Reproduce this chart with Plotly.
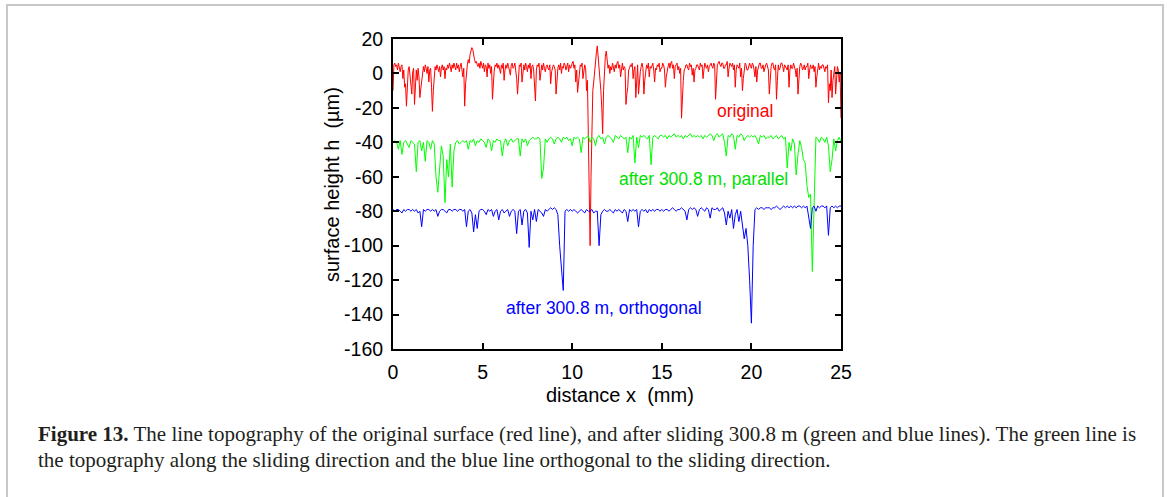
import numpy as np
import plotly.graph_objects as go

# surface height (um), original surface, sampled every 0.05 mm
h_original = [
    -10, 5, 6, 4, 5, 2, 6, 3, 1, 4, 5, -3, 2, -8, -6, -19, -5, 2, 4, -2,
    -8, -12, 1, 3, -18, -6, 2, -4, 3, -2, -14, -9, -3, 2, 4, 1, 5, 3, 0, 4,
    -5, 2, 3, -8, -22, -10, 1, 4, 2, 5, 3, 1, 4, -2, 3, 5, 2, 4, -3, 3,
    2, 5, 3, 6, 4, 1, 5, 3, 6, 4, 2, 6, 3, 5, 1, 4, 6, 2, -2, 3,
    -19, -6, 3, 5, 8, 6, 11, 13, 15, 14, 10, 8, 6, 7, 5, 4, 6, 3, 7, 5,
    3, 6, 1, 5, 4, -2, 6, 3, 5, 0, 4, -15, -4, 2, 5, 4, 6, 3, 5, 2,
    0, 5, 3, 6, -4, 2, 5, 3, 6, 4, 2, -1, 5, 6, 3, 4, 6, 2, -3, -12,
    2, 5, 4, 6, -5, 3, 5, 2, 6, 4, 1, 5, 3, 6, -3, 4, 5, 2, -8, -16,
    2, 5, 4, 6, -4, 3, 5, 2, 6, 3, 1, 4, 5, 3, 2, 5, -6, 1, 3, 5,
    4, 2, -12, -3, 3, 5, 2, 6, 0, 4, 3, 6, 5, 2, 4, 6, 1, 5, 3, 4,
    6, 7, 3, 5, -5, 2, -11, -4, 2, 5, 4, 6, -3, 2, 5, 3, -10, -4, -30, -55,
    -100, -60, -20, -10, -5, 2, 8, 12, 16, 10, 5, -2, -10, -20, -35, -10, 5, 10, 13, 8,
    3, 5, 0, 4, 2, 6, 4, 1, 5, 3, 6, 7, 3, 5, -2, 4, 6, 2, 4, 3,
    -18, -12, -8, 2, 3, 5, 4, 6, -3, 2, 4, -14, 2, 5, -12, -2, 1, 4, 6, 3,
    -12, -4, 2, 5, 3, 6, -2, 4, 3, 5, 6, 2, -5, 3, 2, 5, 4, 6, 1, 3,
    3, 6, 5, 2, -8, -2, 2, 4, 6, 3, 6, 7, 3, 5, -3, 4, 5, 6, 2, 4,
    0, 3, -26, -8, -4, 2, 3, 5, 5, 3, 2, 6, 4, 5, -1, 3, -5, 2, 3, 5,
    5, 3, 2, 6, 4, 5, -3, 2, 6, 4, 3, 5, 1, 4, 5, 6, 4, 3, 6, 5,
    -15, -3, 5, 6, 7, 5, 4, 6, 6, 3, 3, 5, 5, 7, -2, 3, 6, 5, 4, 6,
    2, 5, -8, 2, 5, 4, 3, 6, -2, 3, -10, -3, 4, 6, 5, 2, 2, 5, 6, 4,
    3, 6, 5, 2, -2, 4, -5, 2, 4, 6, 6, 3, 3, 5, 1, 4, 5, 6, 3, 2,
    -12, -2, 4, 6, 6, 3, 2, 5, -15, -4, 5, 2, 3, 6, 6, 4, 1, 5, 4, 3,
    2, 5, -8, 2, 5, 3, 3, 6, 4, 2, -2, 3, -12, -3, 4, 6, 5, 2, 3, 5,
    2, 4, 4, 6, -3, 2, 5, 3, 3, 5, 1, 4, -8, -2, 4, 6, 2, 4, 3, 5,
    5, 2, 1, 4, 3, 5, -17, -6, -10, 2, -14, -4, 2, 4, -12, -3, 4, 2, -5, 0,
    -26,
]

# after 300.8 m, parallel to sliding direction, sampled every 0.1 mm
h_parallel = [
    -40, -39, -40, -44, -39, -47, -40, -39, -41, -43,
    -39, -40, -41, -57, -40, -39, -45, -40, -51, -39,
    -40, -44, -39, -41, -60, -69, -55, -42, -48, -75,
    -50, -60, -41, -66, -45, -40, -39, -41, -40, -39,
    -40, -39, -44, -39, -40, -38, -42, -39, -40, -38,
    -39, -40, -43, -38, -39, -45, -39, -40, -38, -39,
    -39, -48, -40, -38, -42, -39, -38, -40, -39, -38,
    -38, -48, -38, -40, -38, -42, -39, -38, -37, -38,
    -38, -37, -38, -61, -55, -38, -40, -38, -37, -38,
    -41, -38, -37, -38, -40, -37, -38, -37, -39, -38,
    -42, -37, -38, -37, -38, -46, -37, -38, -37, -36,
    -40, -37, -38, -42, -37, -36, -38, -37, -41, -37,
    -36, -37, -38, -40, -36, -37, -38, -36, -37, -38,
    -37, -46, -37, -38, -36, -52, -37, -43, -36, -37,
    -36, -37, -38, -36, -53, -37, -36, -37, -38, -36,
    -36, -37, -36, -38, -36, -37, -36, -35, -37, -36,
    -37, -36, -38, -36, -37, -36, -35, -37, -36, -37,
    -36, -37, -36, -38, -36, -37, -36, -35, -36, -39,
    -36, -35, -37, -36, -35, -40, -48, -36, -37, -35,
    -36, -44, -36, -37, -35, -36, -39, -37, -36, -37,
    -36, -37, -36, -38, -41, -36, -37, -36, -38, -37,
    -37, -36, -38, -37, -36, -38, -37, -36, -38, -37,
    -55, -40, -45, -38, -41, -59, -47, -39, -43, -50,
    -52, -65, -72, -70, -115, -80, -37, -38, -40, -37,
    -38, -40, -37, -42, -57, -50, -38, -45, -39, -37,
    -40,
]

# after 300.8 m, orthogonal to sliding direction, sampled every 0.1 mm
h_orthogonal = [
    -79, -80, -79, -79, -80, -81, -79, -80, -79, -79,
    -80, -79, -80, -79, -81, -80, -89, -79, -80, -79,
    -79, -80, -79, -80, -79, -83, -80, -79, -79, -80,
    -81, -79, -79, -80, -79, -79, -80, -79, -79, -80,
    -79, -89, -80, -79, -81, -92, -82, -90, -80, -79,
    -79, -80, -82, -79, -80, -79, -83, -80, -79, -85,
    -80, -79, -81, -80, -79, -83, -80, -79, -80, -93,
    -80, -79, -88, -80, -79, -81, -101, -80, -85, -79,
    -86, -79, -80, -81, -83, -79, -80, -79, -78, -79,
    -78, -79, -82, -100, -113, -126, -80, -79, -80, -79,
    -80, -79, -80, -81, -80, -79, -80, -81, -79, -80,
    -80, -79, -81, -80, -80, -100, -82, -80, -79, -80,
    -80, -79, -80, -81, -79, -80, -79, -80, -81, -79,
    -80, -86, -79, -80, -79, -80, -79, -89, -80, -79,
    -80, -79, -81, -79, -80, -79, -80, -79, -79, -80,
    -79, -80, -79, -79, -80, -79, -78, -79, -80, -79,
    -79, -78, -79, -80, -85, -79, -78, -79, -78, -79,
    -83, -79, -78, -79, -80, -78, -79, -84, -78, -79,
    -79, -78, -80, -79, -78, -81, -88, -80, -84, -79,
    -90, -82, -79, -86, -80, -88, -96, -90, -100, -120,
    -145, -100, -79, -78, -79, -78, -78, -79, -78, -78,
    -78, -79, -78, -78, -77, -78, -79, -78, -77, -78,
    -77, -78, -77, -78, -77, -78, -77, -77, -78, -77,
    -78, -77, -84, -90, -78, -77, -80, -77, -78, -77,
    -77, -78, -77, -94, -78, -77, -78, -77, -78, -77,
    -77,
]

assert len(h_original) == 501, len(h_original)
assert len(h_parallel) == 251, len(h_parallel)
assert len(h_orthogonal) == 251, len(h_orthogonal)

# distance grids (mm)
x_fine = [round(i * 0.05, 2) for i in range(len(h_original))]
x_coarse = [round(i * 0.1, 1) for i in range(len(h_parallel))]

x_ticks = [0, 5, 10, 15, 20, 25]
y_ticks = [20, 0, -20, -40, -60, -80, -100, -120, -140, -160]

W, H = 1167, 497
L, R, T, B = 393, 841, 39, 349


def px(xp):
    return (xp - L) / (R - L)


def py(yp):
    return (B - yp) / (B - T)


fig = go.Figure()
fig.add_trace(go.Scatter(x=x_fine, y=h_original, mode="lines",
                         line=dict(color="#ff0000", width=1), name="original"))
fig.add_trace(go.Scatter(x=x_coarse, y=h_parallel, mode="lines",
                         line=dict(color="#00ff00", width=1), name="parallel"))
fig.add_trace(go.Scatter(x=x_coarse, y=h_orthogonal, mode="lines",
                         line=dict(color="#0000ff", width=1), name="orthogonal"))

sans = "Liberation Sans, Arial, sans-serif"
tick_font = dict(family=sans, size=19.5, color="black")
title_font = dict(family=sans, size=20, color="black")

fig.update_xaxes(range=[0, 25], tickvals=x_ticks, ticktext=[str(v) for v in x_ticks],
                 ticks="inside", ticklen=6,
                 tickwidth=1.5, tickcolor="black", showline=True, linecolor="black",
                 linewidth=2, mirror="ticks", showgrid=False, zeroline=False,
                 tickfont=tick_font, ticklabelstandoff=5)
fig.update_yaxes(range=[-160, 20], tickvals=y_ticks, ticktext=[str(v) for v in y_ticks],
                 ticks="inside", ticklen=6,
                 tickwidth=1.5, tickcolor="black", showline=True, linecolor="black",
                 linewidth=2, mirror="ticks", showgrid=False, zeroline=False,
                 tickfont=tick_font, ticklabelstandoff=4)

lab = 17.5
ann = []
ann.append(dict(x=19.65, y=-21.7, xref="x", yref="y", text="original", showarrow=False,
                font=dict(family=sans, size=lab, color="#ff0000")))
ann.append(dict(x=17.3, y=-61.5, xref="x", yref="y", text="after 300.8 m, parallel",
                showarrow=False, font=dict(family=sans, size=lab, color="#00e000")))
ann.append(dict(x=11.77, y=-136, xref="x", yref="y", text="after 300.8 m, orthogonal",
                showarrow=False, font=dict(family=sans, size=lab, color="#0000ff")))
ann.append(dict(x=px(620), y=py(395), xref="paper", yref="paper", text="distance x  (mm)",
                showarrow=False, xanchor="center", yanchor="middle", font=title_font))
ann.append(dict(x=px(332), y=py(185), xref="paper", yref="paper",
                text="surface height h  (µm)", textangle=-90,
                showarrow=False, xanchor="center", yanchor="middle", font=title_font))

serif = dict(family="Liberation Serif, Times New Roman, serif", size=21, color="#231f20")
ann.append(dict(x=px(36), y=py(434), xref="paper", yref="paper", xanchor="left",
                yanchor="middle", align="left", showarrow=False,
                text="<b>Figure 13.</b> The line topography of the original surface (red line), "
                     "and after sliding 300.8 m (green and blue lines). The green line is",
                font=serif))
ann.append(dict(x=px(36), y=py(460), xref="paper", yref="paper", xanchor="left",
                yanchor="middle", align="left", showarrow=False,
                text="the topography along the sliding direction and the blue line orthogonal "
                     "to the sliding direction.",
                font=serif))

fig.update_layout(
    width=W, height=H, autosize=False,
    margin=dict(l=L, r=W - R, t=T, b=H - B, pad=0),
    paper_bgcolor="white", plot_bgcolor="white",
    showlegend=False, annotations=ann,
    shapes=[dict(type="rect", xref="paper", yref="paper",
                 x0=px(7), x1=px(1163), y0=py(520), y1=py(5),
                 line=dict(color="#c8c8c8", width=2), fillcolor="rgba(0,0,0,0)", layer="below")],
)

fig.write_html("out.html", include_plotlyjs=True, config={"displayModeBar": False})
